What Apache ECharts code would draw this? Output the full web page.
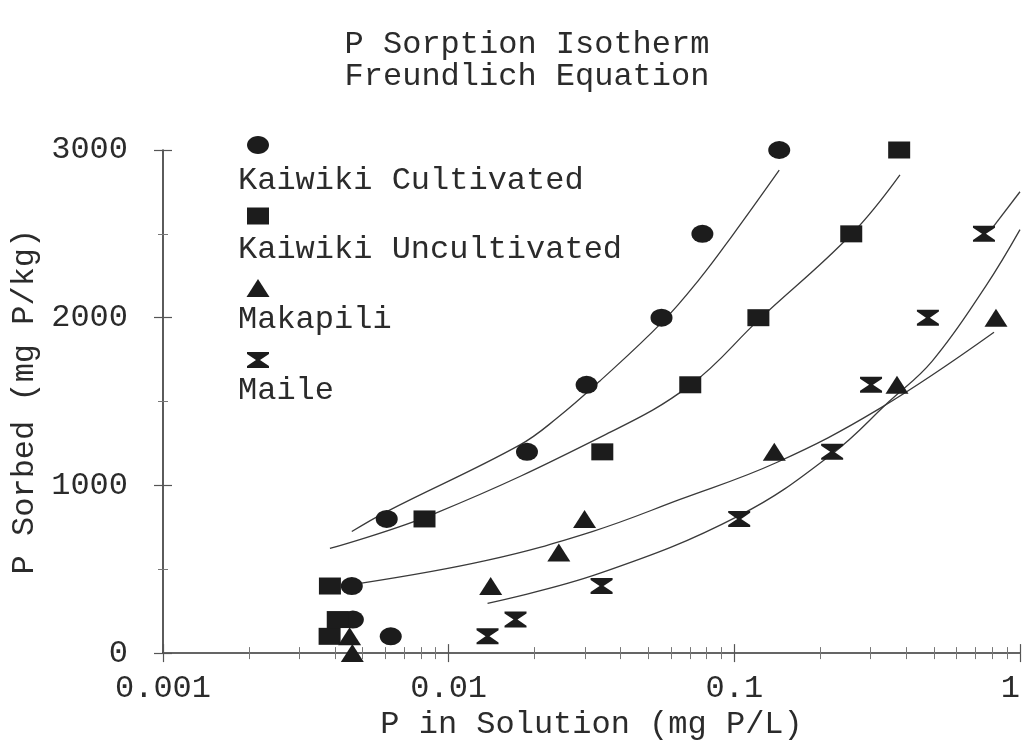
<!DOCTYPE html>
<html>
<head>
<meta charset="utf-8">
<script src="https://cdn.jsdelivr.net/npm/echarts@6/dist/echarts.min.js"></script>
<style>
html,body{margin:0;padding:0;background:#fff;}
#chart{width:1026px;height:746px;}
</style>
</head>
<body>
<div id="chart"></div>
<script>
// ---- data ----
const titleLines = ['P Sorption Isotherm', 'Freundlich Equation'];
const seriesNames = ['Kaiwiki Cultivated', 'Kaiwiki Uncultivated', 'Makapili', 'Maile'];
const xTickLabels = ['0.001', '0.01', '0.1', '1'];
const yTickValues = [0, 1000, 2000, 3000];
const xMinorTicks = [0.002,0.003,0.004,0.005,0.006,0.007,0.008,0.009,
                     0.02,0.03,0.04,0.05,0.06,0.07,0.08,0.09,
                     0.2,0.3,0.4,0.5,0.6,0.7,0.8,0.9];

// measured points
const cultX = [0.00627, 0.00462, 0.00458, 0.00607, 0.0188, 0.0304, 0.0556, 0.0773, 0.1436];
const cultY = [100, 200, 400, 800, 1200, 1600, 2000, 2500, 3000];
const uncX  = [0.00383, 0.00409, 0.00384, 0.00823, 0.0345, 0.0701, 0.1214, 0.2566, 0.3776];
const uncY  = [100, 200, 400, 800, 1200, 1600, 2000, 2500, 3000];
const makX  = [0.0046, 0.0045, 0.01403, 0.0243, 0.0299, 0.138, 0.371, 0.824];
const makY  = [0, 100, 400, 600, 800, 1200, 1600, 2000];
const maiX  = [0.01368, 0.01714, 0.0343, 0.104, 0.220, 0.301, 0.476, 0.748];
const maiY  = [100, 200, 400, 800, 1200, 1600, 2000, 2500];

// fitted Freundlich curves
const cultFitX = [0.00458, 0.00607, 0.0177, 0.0239, 0.0337, 0.056, 0.0755, 0.0984, 0.1436];
const cultFitY = [725, 844, 1240, 1400, 1620, 1975, 2230, 2490, 2880];
const uncFitX  = [0.00384, 0.00893, 0.0351, 0.0701, 0.1222, 0.2564, 0.380];
const uncFitY  = [624, 832, 1300, 1598, 1990, 2496, 2852];
const makFitX  = [0.00489, 0.01359, 0.0318, 0.0642, 0.140, 0.321, 0.811];
const makFitY  = [416, 553, 725, 915, 1135, 1456, 1913];
const maiFitX  = [0.01368, 0.0337, 0.104, 0.220, 0.348, 0.492, 0.760, 1.0];
const maiFitY  = [297, 475, 820, 1188, 1500, 1740, 2190, 2525];
const maiFit2X = [0.792, 1.0];
const maiFit2Y = [2525, 2751];

// ---- styling ----
const FONT = '"Liberation Mono", "DejaVu Sans Mono", monospace';
const FS = 32;
const INK = '#2b2b2b';
const MARK = '#1c1c1c';
const LINE = '#3a3a3a';
const HOURGLASS = 'path://M0,0 L10,0 L10,1.2 L5.9,5 L10,8.8 L10,10 L0,10 L0,8.8 L4.1,5 L0,1.2 Z';
const symbols = ['circle', 'rect', 'triangle', HOURGLASS];
const symSizes = [[22,18],[22,17],[23,18],[22,16]];

function zip(xs, ys){ return xs.map((x,i)=>[x, ys[i]]); }

const pts = [zip(cultX,cultY), zip(uncX,uncY), zip(makX,makY), zip(maiX,maiY)];
const fits = [zip(cultFitX,cultFitY), zip(uncFitX,uncFitY), zip(makFitX,makFitY), zip(maiFitX,maiFitY), zip(maiFit2X,maiFit2Y)];

function logAxis(extra){
  return Object.assign({
    type: 'log', logBase: 10, min: 0.001, max: 1,
    position: 'bottom', offset: 0,
    splitLine: {show:false}, minorSplitLine:{show:false},
    axisLine: {show:false},
    axisLabel: {show:false},
    axisTick: {show:false}
  }, extra);
}
function linAxis(extra){
  return Object.assign({
    type: 'value', min: 0, max: 3000, interval: 1000,
    position: 'left', offset: 0,
    splitLine: {show:false},
    axisLine: {show:false},
    axisLabel: {show:false},
    axisTick: {show:false}
  }, extra);
}

const series = [];
fits.forEach((d, i) => {
  series.push({
    type: 'line', data: d, xAxisIndex: 0, yAxisIndex: 0,
    symbol: 'none', smooth: 0.4, silent: true,
    lineStyle: {color: LINE, width: 1.3}, z: 2
  });
});
pts.forEach((d, i) => {
  series.push({
    name: seriesNames[i], type: 'scatter', data: d, xAxisIndex: 0, yAxisIndex: 0,
    symbol: symbols[i], symbolSize: symSizes[i],
    itemStyle: {color: MARK, opacity: 1}, z: 3
  });
});

// legend drawn as graphic (marker above each label)
const legendTop = [145, 216, 288, 360];
const legendText = [181, 250, 320, 391];
const graphic = [];
titleLines.forEach((t, i) => {
  graphic.push({type:'text', x: 527, y: 45 + i*32,
    style:{text:t, font: FS + 'px ' + FONT, fill: INK, align:'center', verticalAlign:'middle'}});
});
seriesNames.forEach((n, i) => {
  graphic.push({type:'text', x: 238, y: legendText[i],
    style:{text:n, font: FS + 'px ' + FONT, fill: INK, align:'left', verticalAlign:'middle'}});
});
// legend markers
graphic.push({type:'ellipse', shape:{cx:258, cy:legendTop[0], rx:11, ry:9}, style:{fill:MARK}});
graphic.push({type:'rect', shape:{x:247, y:legendTop[1]-8.5, width:22, height:17}, style:{fill:MARK}});
graphic.push({type:'polygon', shape:{points:[[258,legendTop[2]-9],[269.5,legendTop[2]+9],[246.5,legendTop[2]+9]]}, style:{fill:MARK}});
graphic.push({type:'polygon', shape:{points:[[247,352],[269,352],[269,354],[260,360],[269,366],[269,368],[247,368],[247,366],[256,360],[247,354]]}, style:{fill:MARK}});

const option = {
  backgroundColor: '#ffffff',
  animation: false,
  textStyle: {fontFamily: FONT},
  grid: {left: 163, right: 6, top: 150, bottom: 91, containLabel: false},
  xAxis: [
    logAxis({
      axisLine: {show:true, lineStyle:{color:'#333', width:1.6}},
      axisTick: {show:true, inside:false, length:9, lineStyle:{color:'#555', width:1.2}},
      axisLabel: {show:true, color: INK, fontSize: FS, fontFamily: FONT, margin: 19,
        alignMaxLabel: 'right',
        formatter: (v, idx) => xTickLabels[idx] !== undefined ? xTickLabels[idx] : ''},
      name: 'P in Solution (mg P/L)', nameLocation: 'middle', nameGap: 52,
      nameTextStyle: {color: INK, fontSize: FS, fontFamily: FONT}
    }),
    logAxis({axisTick: {show:true, inside:true, length:9, lineStyle:{color:'#555', width:1.2}}}),
    logAxis({axisTick: {show:true, inside:false, length:6, customValues: xMinorTicks, lineStyle:{color:'#777', width:1}}}),
    logAxis({axisTick: {show:true, inside:true, length:6, customValues: xMinorTicks, lineStyle:{color:'#777', width:1}}})
  ],
  yAxis: [
    linAxis({
      axisLine: {show:true, lineStyle:{color:'#333', width:1.6}},
      axisTick: {show:true, inside:false, length:9, lineStyle:{color:'#555', width:1.2}},
      minorTick: {show:true, splitNumber:2, length:5, lineStyle:{color:'#777', width:1}},
      axisLabel: {show:true, color: INK, fontSize: FS, fontFamily: FONT, margin: 35,
        formatter: v => yTickValues.indexOf(v) >= 0 ? String(v) : ''},
      name: 'P Sorbed (mg P/kg)', nameLocation: 'middle', nameGap: 122, nameRotate: 90,
      nameTextStyle: {color: INK, fontSize: FS, fontFamily: FONT}
    }),
    linAxis({
      axisTick: {show:true, inside:true, length:9, lineStyle:{color:'#555', width:1.2}},
      minorTick: {show:true, splitNumber:2, length:5, lineStyle:{color:'#777', width:1}}
    })
  ],
  graphic: graphic,
  series: series
};

const chart = echarts.init(document.getElementById('chart'), null, {renderer: 'canvas'});
chart.setOption(option);
</script>
</body>
</html>
